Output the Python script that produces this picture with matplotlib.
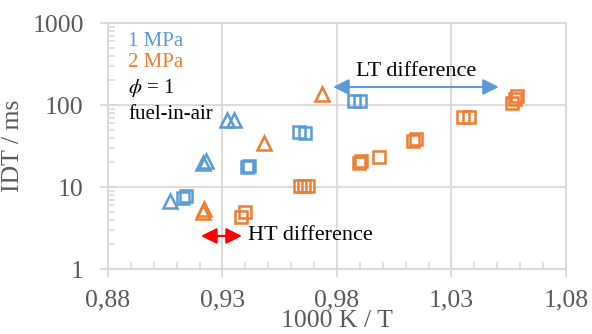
import matplotlib
matplotlib.use("Agg")
import matplotlib.pyplot as plt
from matplotlib.ticker import MultipleLocator, LogLocator, NullFormatter, FixedLocator

plt.rcParams["font.family"] = ["Liberation Serif", "DejaVu Serif"]
plt.rcParams["mathtext.fontset"] = "stix"

BLUE = "#5B9BD5"
ORANGE = "#ED7D31"
GRID = "#d9d9d9"
TICKTXT = "#595959"

# ---------- data (1000/T, IDT in ms) ---------- #
blue_tri_x = [0.9071, 0.9215, 0.9229, 0.9320, 0.9350]
blue_tri_y = [6.75, 19.5, 21.0, 66.0, 66.0]
blue_sq_x = [0.9128, 0.9140, 0.9405, 0.9418, 0.9634, 0.9660, 0.9874, 0.9900]
blue_sq_y = [7.4, 7.7, 17.6, 18.3, 46.5, 45.5, 113.0, 113.0]

orange_tri_x = [0.9215, 0.9220, 0.9480, 0.9734]
orange_tri_y = [4.9, 5.4, 34.4, 138.0]
orange_sq_x = [0.9380, 0.9400, 0.9637, 0.9655, 0.9673, 0.9895, 0.9905, 0.9983,
               1.0133, 1.0145, 1.0350, 1.0375, 1.0564, 1.0577, 1.0585]
orange_sq_y = [4.3, 5.0, 10.3, 10.3, 10.3, 19.8, 20.5, 23.2,
               36.5, 39.0, 71.0, 72.0, 106.0, 118.0, 128.0]

x_ticks = [0.88, 0.93, 0.98, 1.03, 1.08]
x_tick_labels = ["0,88", "0,93", "0,98", "1,03", "1,08"]
y_ticks = [1, 10, 100, 1000]
y_tick_labels = ["1", "10", "100", "1000"]

lt_arrow_x = [0.9783, 1.0507]
lt_arrow_y = 166
ht_arrow_x = [0.9206, 0.9385]
ht_arrow_y = 2.53

# ---------- figure ---------- #
fig = plt.figure(figsize=(5.92, 3.34), dpi=100)
ax = fig.add_axes([0.1824, 0.1946, 0.7736, 0.7364])

ax.set_yscale("log")
ax.set_xlim(0.88, 1.08)
ax.set_ylim(1, 1000)

ax.grid(True, which="major", color=GRID, linewidth=1.3)
ax.set_axisbelow(True)
for s in ax.spines.values():
    s.set_color(GRID)
    s.set_linewidth(1.3)

ax.xaxis.set_major_locator(FixedLocator(x_ticks))
ax.set_xticklabels(x_tick_labels)
ax.xaxis.set_minor_locator(MultipleLocator(0.01))
ax.yaxis.set_major_locator(FixedLocator(y_ticks))
ax.set_yticklabels(y_tick_labels)
ax.yaxis.set_minor_locator(LogLocator(base=10, subs=range(2, 10)))
ax.yaxis.set_minor_formatter(NullFormatter())

ax.tick_params(which="major", direction="inout", length=11, width=1.3,
               color=GRID, labelcolor=TICKTXT, labelsize=18.5)
ax.tick_params(which="minor", direction="in", length=5, width=1.1, color=GRID)
ax.tick_params(axis="x", which="major", pad=9)
ax.tick_params(axis="y", which="major", pad=12)

mk = dict(linestyle="none", markerfacecolor="none", markeredgewidth=1.8)
ax.plot(blue_tri_x, blue_tri_y, marker="^", markersize=10, color=BLUE, **mk)
ax.plot(blue_sq_x, blue_sq_y, marker="s", markersize=8, color=BLUE, **mk)
ax.plot(orange_tri_x, orange_tri_y, marker="^", markersize=10, color=ORANGE, **mk)
ax.plot(orange_sq_x, orange_sq_y, marker="s", markersize=8, color=ORANGE, **mk)

ax.set_xlabel("1000 K / T", fontsize=18.5, color=TICKTXT, labelpad=-1)
ax.set_ylabel("IDT / ms", fontsize=18.5, color=TICKTXT, labelpad=6)

# legend-like labels
ax.text(0.044, 0.923, "1 MPa", transform=ax.transAxes, color=BLUE, fontsize=15, va="center")
ax.text(0.044, 0.838, "2 MPa", transform=ax.transAxes, color=ORANGE, fontsize=15, va="center")
ax.text(0.044, 0.736, r"$\phi$ = 1", transform=ax.transAxes, color="black", fontsize=15, va="center")
ax.text(0.044, 0.630, "fuel-in-air", transform=ax.transAxes, color="black", fontsize=15, va="center")

# arrows
ax.annotate("", xy=(lt_arrow_x[0], lt_arrow_y), xytext=(lt_arrow_x[1], lt_arrow_y),
            arrowprops=dict(arrowstyle="<|-|>", color=BLUE, lw=1.5,
                            mutation_scale=24, shrinkA=0, shrinkB=0))
ax.text(sum(lt_arrow_x) / 2, 260, "LT difference", fontsize=16, ha="center", va="center")

ax.annotate("", xy=(ht_arrow_x[0], ht_arrow_y), xytext=(ht_arrow_x[1], ht_arrow_y),
            arrowprops=dict(arrowstyle="<|-|>", color="red", lw=1.5,
                            mutation_scale=24, shrinkA=0, shrinkB=0))
ax.text(0.9411, ht_arrow_y, "HT difference", fontsize=16, ha="left", va="center")

fig.savefig("out.png", dpi=100)
